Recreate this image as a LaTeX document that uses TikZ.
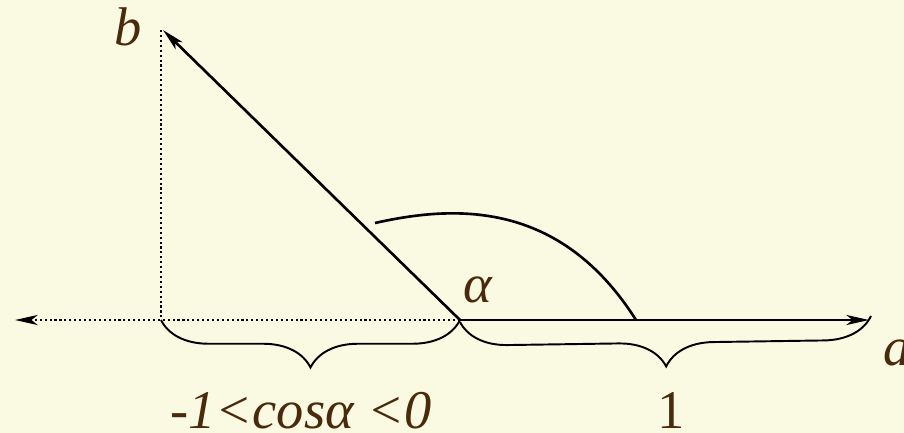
\documentclass[tikz,border=0pt]{standalone}
\usepackage{fontspec}
\setmainfont{Liberation Serif}
\usetikzlibrary{arrows.meta, decorations.pathreplacing}
\definecolor{cpaper}{HTML}{FAFAE3}
\definecolor{cbrown}{HTML}{4A2A0C}
\tikzset{
  every picture/.style={x=0.02cm, y=-0.02cm},
  vec/.style={-{Stealth[length=0.45cm, width=0.2cm, inset=0.12cm]}, line width=1.5pt},
  dots/.style={line width=1.5pt, dash pattern=on 1.2pt off 1.6pt},
  brace/.style={decorate, decoration={brace, mirror, amplitude=0.95cm}, line width=1.1pt},
  lbl/.style={text=cbrown, font=\fontsize{31}{33}\selectfont\itshape, inner sep=0pt, anchor=base},
}

\begin{document}
\begin{tikzpicture}
  \fill[cpaper] (0,0) rectangle (904,433);
  \useasboundingbox (0,0) rectangle (904,433);

  % ---- points
  \coordinate (O) at (460,320);
  \coordinate (B) at (163,30);
  \coordinate (A) at (869,320);
  \coordinate (L) at (15,320);
  \coordinate (F) at (161,320);
  \coordinate (F0) at (161,30);
  \coordinate (R0) at (460,322);
  \coordinate (R1) at (871,316);

  % ---- vectors and projection
  \draw[dots] (F0) -- (F);
  \draw[vec, dots] (O) -- (L);
  \draw[vec] (O) -- (B);
  \draw[vec] (O) -- (A);
  \draw[line width=1.5pt] (375,223) .. controls (455,205) and (560,200) .. (636,320);

  % ---- braces
  \draw[brace] (F) -- (O);
  \draw[brace] (R0) -- (R1);

  % ---- labels
  \node[lbl] (lb) at (128,45) {b};
  \node[lbl] (lal) at (478,302) {α};
  \node[lbl] (la) at (897,365) {a};
  \node[lbl] (lcos) at (301,428) {-1<cosα <0};
  \node[lbl, font=\fontsize{31}{33}\selectfont\upshape] (lone) at (671,428) {1};
\end{tikzpicture}
\end{document}
